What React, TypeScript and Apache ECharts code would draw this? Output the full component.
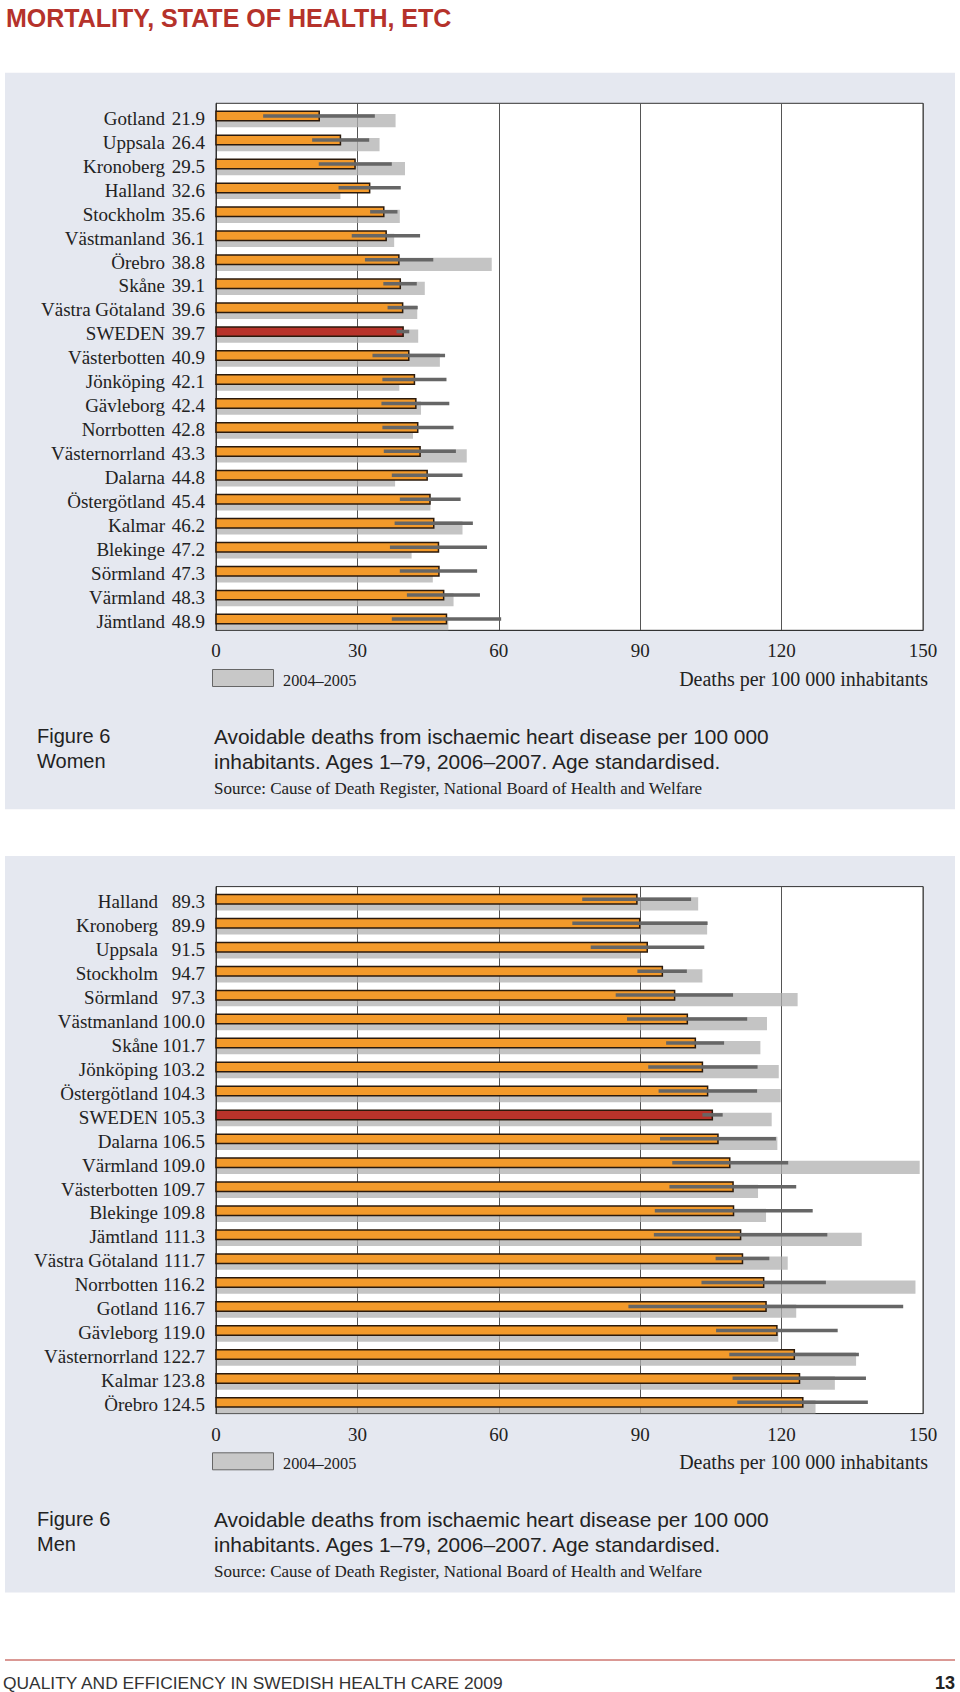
import React, { useEffect, useRef } from 'react';
import * as echarts from 'echarts';

const womenNames = ['Gotland', 'Uppsala', 'Kronoberg', 'Halland', 'Stockholm', 'Västmanland', 'Örebro', 'Skåne', 'Västra Götaland', 'SWEDEN', 'Västerbotten', 'Jönköping', 'Gävleborg', 'Norrbotten', 'Västernorrland', 'Dalarna', 'Östergötland', 'Kalmar', 'Blekinge', 'Sörmland', 'Värmland', 'Jämtland'];
const womenValues = [21.9, 26.4, 29.5, 32.6, 35.6, 36.1, 38.8, 39.1, 39.6, 39.7, 40.9, 42.1, 42.4, 42.8, 43.3, 44.8, 45.4, 46.2, 47.2, 47.3, 48.3, 48.9];
const womenPrev = [38.1, 34.7, 40.1, 26.4, 39.0, 37.8, 58.5, 44.3, 42.7, 42.9, 47.5, 38.9, 43.5, 41.8, 53.2, 38.0, 45.5, 52.3, 41.5, 46.0, 50.4, 49.3];
const womenLow = [10.0, 20.4, 21.8, 26.0, 32.7, 28.8, 31.6, 35.5, 36.4, 38.3, 33.2, 35.3, 35.1, 35.3, 35.6, 37.3, 39.0, 37.9, 36.9, 39.0, 40.5, 37.3];
const womenHigh = [33.7, 32.5, 37.3, 39.2, 38.5, 43.3, 46.1, 42.6, 42.8, 41.0, 48.6, 48.9, 49.5, 50.4, 50.9, 52.3, 51.9, 54.5, 57.5, 55.4, 56.0, 60.5];

const menNames = ['Halland', 'Kronoberg', 'Uppsala', 'Stockholm', 'Sörmland', 'Västmanland', 'Skåne', 'Jönköping', 'Östergötland', 'SWEDEN', 'Dalarna', 'Värmland', 'Västerbotten', 'Blekinge', 'Jämtland', 'Västra Götaland', 'Norrbotten', 'Gotland', 'Gävleborg', 'Västernorrland', 'Kalmar', 'Örebro'];
const menValues = [89.3, 89.9, 91.5, 94.7, 97.3, 100.0, 101.7, 103.2, 104.3, 105.3, 106.5, 109.0, 109.7, 109.8, 111.3, 111.7, 116.2, 116.7, 119.0, 122.7, 123.8, 124.5];
const menPrev = [102.3, 104.2, 90.1, 103.2, 123.4, 116.9, 115.5, 119.4, 119.8, 117.9, 119.1, 149.3, 115.0, 116.7, 137.0, 121.3, 148.4, 123.1, 119.3, 135.8, 131.3, 127.2];
const menLow = [77.7, 75.6, 79.5, 89.4, 84.8, 87.2, 95.5, 91.7, 93.9, 103.2, 94.2, 96.8, 96.2, 93.1, 92.9, 106.0, 103.0, 87.5, 106.1, 108.9, 109.6, 110.6];
const menHigh = [100.8, 104.3, 103.6, 99.9, 109.7, 112.7, 107.8, 114.9, 114.8, 107.5, 118.8, 121.4, 123.1, 126.6, 129.7, 117.4, 129.4, 145.8, 131.9, 136.4, 137.9, 138.3];

const xTicks = [0, 30, 60, 90, 120, 150];

const ORANGE = '#F39A2B';
const RED = '#B8332A';
const PANEL = '#E5E8F0';
const SERIF = '"Liberation Serif", "DejaVu Serif", serif';
const SANS = '"Liberation Sans", Arial, sans-serif';

function makeAxes(idx: number, names: string[], values: number[], valW: number) {
  const xAxis = {
    type: 'value', gridIndex: idx, min: xTicks[0], max: xTicks[xTicks.length - 1], interval: 30,
    axisLine: { show: true, lineStyle: { color: '#333', width: 1 } },
    axisTick: { show: false },
    splitLine: { show: true, lineStyle: { color: '#555', width: 1 } },
    axisLabel: { fontFamily: SERIF, fontSize: 19, color: '#222', margin: 11 },
  };
  const yAxis = {
    type: 'category', gridIndex: idx, inverse: true,
    data: names,
    axisLine: { show: true, lineStyle: { color: '#333', width: 1 } },
    axisTick: { show: false },
    axisLabel: {
      margin: 11,
      formatter: (n: string, i: number) => `{n|${n}}{v|${values[i].toFixed(1)}}`,
      rich: {
        n: { fontFamily: SERIF, fontSize: 19, color: '#222', padding: [6, 0, 0, 0] },
        v: { fontFamily: SERIF, fontSize: 19, color: '#222', width: valW, align: 'right', padding: [6, 0, 0, 0] },
      },
    },
  };
  return { xAxis, yAxis };
}

function makeSeries(idx: number, names: string[], values: number[], prev: number[], lo: number[], hi: number[]) {
  const data = names.map((n, i) => [values[i], i, prev[i], lo[i], hi[i], n === 'SWEDEN' ? 1 : 0]);
  return {
    type: 'custom',
    xAxisIndex: idx, yAxisIndex: idx,
    encode: { x: 0, y: 1 },
    data,
    renderItem: (_p: any, api: any) => {
      const v = api.value(0), ci = api.value(1), p = api.value(2), l = api.value(3), h = api.value(4), sw = api.value(5);
      const c = api.coord([0, ci]);
      const band = api.size([0, 1])[1];
      const k = band / 24;
      const top = c[1] - band / 2;
      const x0 = c[0];
      const xv = api.coord([v, ci])[0];
      const xp = api.coord([p, ci])[0];
      const xl = api.coord([l, ci])[0];
      const xh = api.coord([h, ci])[0];
      return {
        type: 'group',
        children: [
          { type: 'rect', shape: { x: x0 + 1, y: top + 10.7 * k, width: xp - x0 - 1, height: 13.3 * k }, style: { fill: 'rgba(176,176,176,0.75)' } },
          { type: 'rect', shape: { x: x0, y: top + 8 * k, width: xv - x0, height: 9.5 * k }, style: { fill: sw ? RED : ORANGE, stroke: '#2b1a0c', lineWidth: 1.5 } },
          { type: 'line', shape: { x1: xl, y1: top + 12.7 * k, x2: xh, y2: top + 12.7 * k }, style: { stroke: '#666', lineWidth: 3.5 } },
        ],
      };
    },
  };
}

function panelGraphics(dy: number, who: string) {
  return [
    { type: 'rect', z: -10, shape: { x: 5, y: 72.7 + dy, width: 950, height: 736.6 }, style: { fill: PANEL } },
    { type: 'rect', shape: { x: 212.5, y: 669.5 + dy, width: 61, height: 17 }, style: { fill: '#C8C8C8', stroke: '#666', lineWidth: 1 } },
    { type: 'text', x: 283, y: 680.5 + dy, style: { text: '2004–2005', font: `16.3px ${SERIF}`, fill: '#222', verticalAlign: 'middle', align: 'left' } },
    { type: 'text', x: 928, y: 679 + dy, style: { text: 'Deaths per 100 000 inhabitants', font: `20px ${SERIF}`, fill: '#222', verticalAlign: 'middle', align: 'right' } },
    { type: 'text', x: 37, y: 736 + dy, style: { text: 'Figure 6', font: `20px ${SANS}`, fill: '#222', verticalAlign: 'middle', align: 'left' } },
    { type: 'text', x: 37, y: 761 + dy, style: { text: who, font: `20px ${SANS}`, fill: '#222', verticalAlign: 'middle', align: 'left' } },
    { type: 'text', x: 214, y: 736 + dy, style: { text: 'Avoidable deaths from ischaemic heart disease per 100 000', font: `20.9px ${SANS}`, fill: '#222', verticalAlign: 'middle', align: 'left' } },
    { type: 'text', x: 214, y: 761 + dy, style: { text: 'inhabitants. Ages 1–79, 2006–2007. Age standardised.', font: `20.9px ${SANS}`, fill: '#222', verticalAlign: 'middle', align: 'left' } },
    { type: 'text', x: 214, y: 788.5 + dy, style: { text: 'Source: Cause of Death Register, National Board of Health and Welfare', font: `17px ${SERIF}`, fill: '#222', verticalAlign: 'middle', align: 'left' } },
  ];
}

export default function App() {
  const ref = useRef<HTMLDivElement>(null);
  useEffect(() => {
    if (!ref.current) return;
    const chart = echarts.init(ref.current, undefined, { renderer: 'svg' });
    const a0 = makeAxes(0, womenNames, womenValues, 40);
    const a1 = makeAxes(1, menNames, menValues, 47);
    const DY = 783.3;
    chart.setOption({
      animation: false,
      backgroundColor: '#fff',
      grid: [
        { left: 216, top: 103.3, width: 707, height: 527, show: true, backgroundColor: '#fff', borderColor: '#333', borderWidth: 1, containLabel: false },
        { left: 216, top: 103.3 + DY, width: 707, height: 527, show: true, backgroundColor: '#fff', borderColor: '#333', borderWidth: 1, containLabel: false },
      ],
      xAxis: [a0.xAxis, a1.xAxis],
      yAxis: [a0.yAxis, a1.yAxis],
      series: [
        makeSeries(0, womenNames, womenValues, womenPrev, womenLow, womenHigh),
        makeSeries(1, menNames, menValues, menPrev, menLow, menHigh),
      ],
      graphic: [
        { type: 'text', x: 6, y: 18, style: { text: 'MORTALITY, STATE OF HEALTH, ETC', font: `bold 25px ${SANS}`, fill: '#B5322B', verticalAlign: 'middle', align: 'left' } },
        ...panelGraphics(0, 'Women'),
        ...panelGraphics(DY, 'Men'),
        { type: 'line', shape: { x1: 5, y1: 1660, x2: 955, y2: 1660 }, style: { stroke: '#B5322B', lineWidth: 1 } },
        { type: 'text', x: 3, y: 1683, style: { text: 'QUALITY AND EFFICIENCY IN SWEDISH HEALTH CARE 2009', font: `17.4px ${SANS}`, fill: '#333', verticalAlign: 'middle', align: 'left' } },
        { type: 'text', x: 955, y: 1683, style: { text: '13', font: `bold 18px ${SANS}`, fill: '#222', verticalAlign: 'middle', align: 'right' } },
      ],
    });
    return () => chart.dispose();
  }, []);
  return <div ref={ref} style={{ position: 'absolute', left: 0, top: 0, width: 960, height: 1692 }} />;
}
